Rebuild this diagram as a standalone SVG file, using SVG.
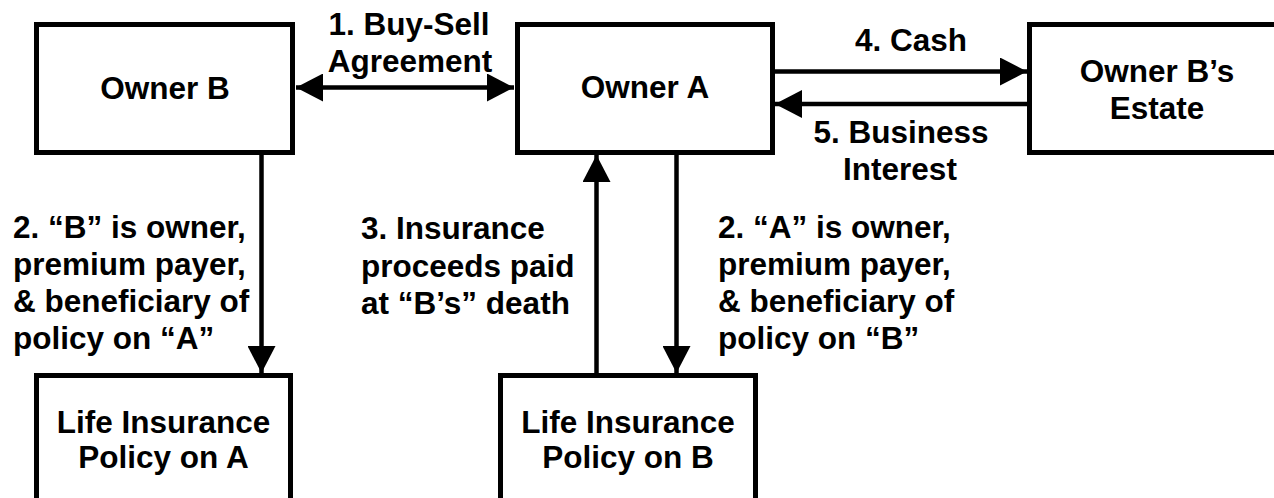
<svg xmlns="http://www.w3.org/2000/svg" width="1274" height="498" viewBox="0 0 1274 498">
<style>
.box{fill:#fff;stroke:#000;stroke-width:5}
.t{font-family:"Liberation Sans",Arial,sans-serif;font-weight:bold;font-size:31.5px;fill:#000}
.c{text-anchor:middle}
.ln{stroke:#000;stroke-width:4.5;fill:none}
</style>
<defs>
<marker id="ah" markerUnits="userSpaceOnUse" markerWidth="28" markerHeight="28" viewBox="0 0 27 28" refX="27" refY="14" orient="auto-start-reverse">
<path d="M0,0 L27,14 L0,28 z" fill="#000"/>
</marker>
</defs>
<rect width="1274" height="498" fill="#fff"/>
<g id="connectors">
<line class="ln" x1="296" y1="87.5" x2="514" y2="87.5" marker-start="url(#ah)" marker-end="url(#ah)"/>
<line class="ln" x1="775" y1="71.5" x2="1027" y2="71.5" marker-end="url(#ah)"/>
<line class="ln" x1="1027" y1="104" x2="775" y2="104" marker-end="url(#ah)"/>
<line class="ln" x1="261.5" y1="155" x2="261.5" y2="373" marker-end="url(#ah)"/>
<line class="ln" x1="596.5" y1="375" x2="596.5" y2="155" marker-end="url(#ah)"/>
<line class="ln" x1="676.5" y1="155" x2="676.5" y2="373" marker-end="url(#ah)"/>
</g>
<g id="ownerB">
<rect class="box" x="36.5" y="24.5" width="256" height="128"/>
<text class="t c" x="165" y="99">Owner B</text>
</g>
<g id="ownerA">
<rect class="box" x="517.5" y="24.5" width="255" height="128"/>
<text class="t c" x="645" y="98">Owner A</text>
</g>
<g id="estate">
<rect class="box" x="1029.5" y="24.5" width="256" height="128"/>
<text class="t c" x="1157" y="82">Owner B’s</text>
<text class="t c" x="1157" y="119">Estate</text>
</g>
<g id="policyA">
<rect class="box" x="36.5" y="375.5" width="254" height="140"/>
<text class="t c" x="163.5" y="433">Life Insurance</text>
<text class="t c" x="163.5" y="468">Policy on A</text>
</g>
<g id="policyB">
<rect class="box" x="500.5" y="375.5" width="255" height="140"/>
<text class="t c" x="628" y="433">Life Insurance</text>
<text class="t c" x="628" y="468">Policy on B</text>
</g>
<g id="labels">
<text class="t c" x="409" y="35">1. Buy-Sell</text>
<text class="t c" x="410" y="72">Agreement</text>
<text class="t c" x="911" y="50.5">4. Cash</text>
<text class="t c" x="901" y="143">5. Business</text>
<text class="t c" x="900" y="180">Interest</text>
<text class="t" x="13" y="238">2. “B” is owner,</text>
<text class="t" x="13" y="275">premium payer,</text>
<text class="t" x="13" y="312">&amp; beneficiary of</text>
<text class="t" x="13" y="349">policy on “A”</text>
<text class="t" x="361" y="239">3. Insurance</text>
<text class="t" x="361" y="276.5">proceeds paid</text>
<text class="t" x="361" y="314">at “B’s” death</text>
<text class="t" x="718" y="238">2. “A” is owner,</text>
<text class="t" x="718" y="275">premium payer,</text>
<text class="t" x="718" y="312">&amp; beneficiary of</text>
<text class="t" x="718" y="349">policy on “B”</text>
</g>
</svg>
